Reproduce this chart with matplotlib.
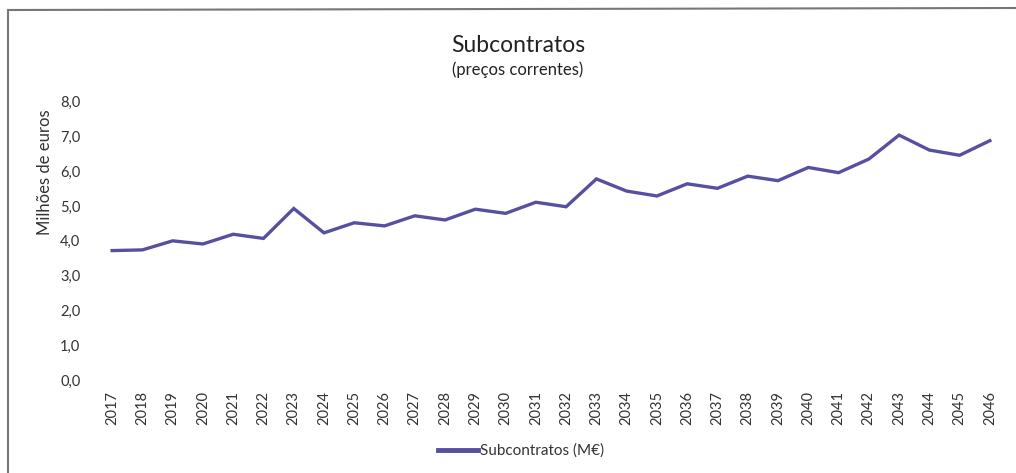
import matplotlib
matplotlib.use("Agg")
import matplotlib.pyplot as plt
from matplotlib.lines import Line2D

years = [str(y) for y in range(2017, 2047)]
values = [3.72, 3.74, 4.00, 3.91, 4.19, 4.07, 4.93, 4.23, 4.52, 4.43,
          4.72, 4.60, 4.91, 4.79, 5.11, 4.98, 5.78, 5.43, 5.29, 5.64,
          5.51, 5.86, 5.73, 6.11, 5.96, 6.35, 7.04, 6.61, 6.46, 6.88]
yticks = [0, 1, 2, 3, 4, 5, 6, 7, 8]
ytick_labels = ["0,0", "1,0", "2,0", "3,0", "4,0", "5,0", "6,0", "7,0", "8,0"]

plt.rcParams['font.family'] = ['Lato', 'DejaVu Sans']
W, H = 1016, 473
fig = plt.figure(figsize=(W / 100, H / 100), dpi=100)
fig.patch.set_facecolor('white')

left, right, top, bottom = 97, 1005, 101.7, 380
ax = fig.add_axes([left / W, 1 - bottom / H, (right - left) / W, (bottom - top) / H])
x = list(range(len(years)))
color = '#5750a0'
ax.plot(x, values, color=color, lw=2.4, solid_joinstyle='miter', label='Subcontratos (M€)')
ax.set_xlim(-0.5, len(years) - 0.5)
ax.set_ylim(0, 8)
ax.set_yticks(yticks)
ax.set_yticklabels(ytick_labels)
ax.set_xticks(x)
ax.set_xticklabels(years, rotation=90)
for s in ax.spines.values():
    s.set_visible(False)
ax.tick_params(axis='both', length=0, labelsize=10.5, colors='#333333')
ax.tick_params(axis='y', pad=12)
ax.tick_params(axis='x', pad=8)
ax.set_ylabel('Milhões de euros', fontsize=12, color='#333333')
ax.yaxis.set_label_coords(53 / W, 1 - 172 / H, transform=fig.transFigure)

fig.text(518 / W, 1 - 45 / H, 'Subcontratos', ha='center', va='center', fontsize=16.5,
         color='#222222')
fig.text(518 / W, 1 - 70 / H, '(preços correntes)', ha='center', va='center', fontsize=12,
         color='#222222')

leg = fig.legend(handles=[Line2D([0], [0], color=color, lw=3.5)], labels=['Subcontratos (M€)'],
                 loc='center', bbox_to_anchor=(521 / W, 1 - 451 / H), frameon=False,
                 fontsize=11, handlelength=2.6, handletextpad=0.1)
for t in leg.get_texts():
    t.set_color('#333333')

# frame
fig.add_artist(Line2D([8 / W, 8 / W], [0, 1 - 10 / H], color='#777777', lw=1.5, transform=fig.transFigure))
fig.add_artist(Line2D([8 / W, 1], [1 - 10 / H, 1 - 8 / H], color='#777777', lw=1.5, transform=fig.transFigure))

fig.savefig('out.png', dpi=100)
